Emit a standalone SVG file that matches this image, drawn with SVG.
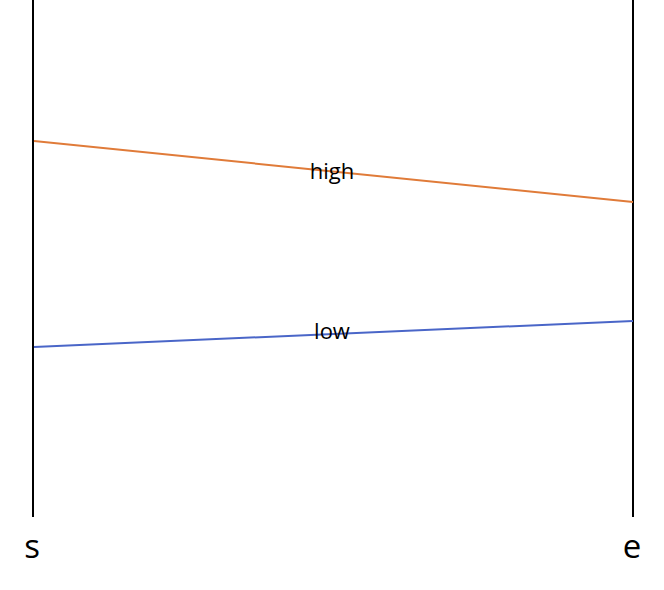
<svg xmlns="http://www.w3.org/2000/svg" width="664" height="590" viewBox="0 0 664 590">
<style>
.axis{stroke:#000;stroke-width:2;fill:none}
.lbl{font-family:"Open Sans","Liberation Sans",sans-serif;fill:#000;text-anchor:middle}
.big{font-size:33px}
.small{font-size:22px}
</style>
<rect width="664" height="590" fill="#fff"/>
<g id="s">
<line class="axis" x1="33" y1="0" x2="33" y2="517"/>
<text class="lbl big" x="32" y="558">s</text>
</g>
<g id="e">
<line class="axis" x1="633" y1="0" x2="633" y2="517"/>
<text class="lbl big" x="632" y="558">e</text>
</g>
<g id="connectors">
<g id="high">
<line x1="34" y1="141" x2="633" y2="202" stroke="#e07b39" stroke-width="2"/>
<text class="lbl small" x="332" y="179">high</text>
</g>
<g id="low">
<line x1="34" y1="347" x2="633" y2="321" stroke="#4a66c8" stroke-width="2"/>
<text class="lbl small" x="332" y="339">low</text>
</g>
</g>
</svg>
